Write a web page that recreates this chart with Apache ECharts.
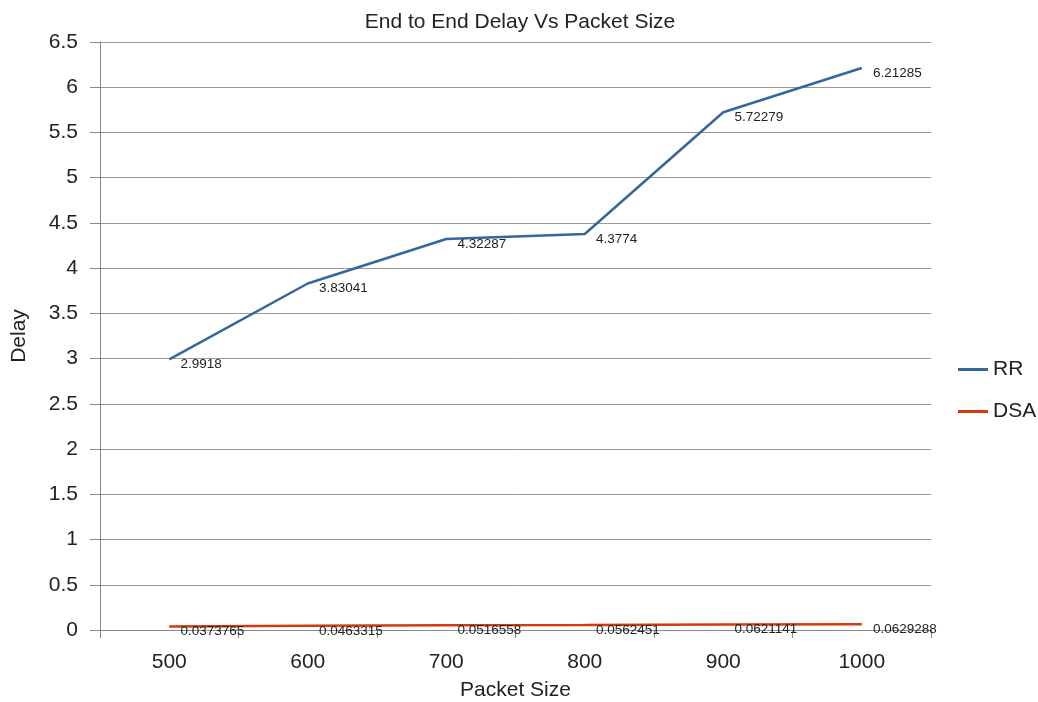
<!DOCTYPE html>
<html>
<head>
<meta charset="utf-8">
<script src="https://cdn.jsdelivr.net/npm/echarts@6/dist/echarts.min.js"></script>
<style>html,body{margin:0;padding:0;background:#fff;}#c{width:1038px;height:702px;}</style>
</head>
<body>
<div id="c"></div>
<script>
const categories = ['500', '600', '700', '800', '900', '1000'];
const rrValues = [2.9918, 3.83041, 4.32287, 4.3774, 5.72279, 6.21285];
const dsaValues = [0.0373765, 0.0463315, 0.0516558, 0.0562451, 0.0621141, 0.0629288];
const seriesNames = ['RR', 'DSA'];

const chart = echarts.init(document.getElementById('c'));
const font = 'Liberation Sans, Arial, sans-serif';
const lbl = {
  show: true, position: 'right', distance: 11, offset: [0, 5],
  color: '#222', fontSize: 13.5, fontFamily: font,
  formatter: p => String(p.value)
};
chart.setOption({
  animation: false,
  title: {
    text: 'End to End Delay Vs Packet Size', left: 515, top: 7, textAlign: 'center',
    textStyle: { color: '#222', fontSize: 21, fontWeight: 'normal', fontFamily: font }
  },
  legend: {
    orient: 'vertical', left: 953, top: 354, itemGap: 21, itemWidth: 30, itemHeight: 3,
    icon: 'rect', data: seriesNames,
    textStyle: { color: '#222', fontSize: 21, fontFamily: font }
  },
  grid: { left: 100, right: 107, top: 42, bottom: 72, outerBoundsMode: 'none', containLabel: false },
  xAxis: {
    type: 'category', data: categories, boundaryGap: true,
    name: 'Packet Size', nameLocation: 'middle', nameGap: 50,
    nameTextStyle: { color: '#222', fontSize: 21, fontFamily: font },
    axisLine: { lineStyle: { color: '#888', width: 1 } },
    axisTick: { show: true, length: 8, lineStyle: { color: '#888' } },
    axisLabel: { color: '#222', fontSize: 21, margin: 22, fontFamily: font }
  },
  yAxis: {
    type: 'value', min: 0, max: 6.5, interval: 0.5,
    name: 'Delay', nameLocation: 'middle', nameGap: 70, nameRotate: 90,
    nameTextStyle: { color: '#222', fontSize: 21, fontFamily: font },
    axisLine: { show: true, lineStyle: { color: '#888', width: 1 } },
    axisTick: { show: true, length: 10, lineStyle: { color: '#888' } },
    axisLabel: { color: '#222', fontSize: 21, margin: 22, fontFamily: font },
    splitLine: { lineStyle: { color: '#999', width: 1 } }
  },
  series: [
    { name: seriesNames[0], type: 'line', data: rrValues, symbol: 'circle', symbolSize: 0.5, showSymbol: true,
      lineStyle: { color: '#36679b', width: 2.5 }, itemStyle: { color: '#36679b' }, label: lbl },
    { name: seriesNames[1], type: 'line', data: dsaValues, symbol: 'circle', symbolSize: 0.5, showSymbol: true,
      lineStyle: { color: '#d43a0c', width: 2.5 }, itemStyle: { color: '#d43a0c' }, label: lbl }
  ]
});
</script>
</body>
</html>
